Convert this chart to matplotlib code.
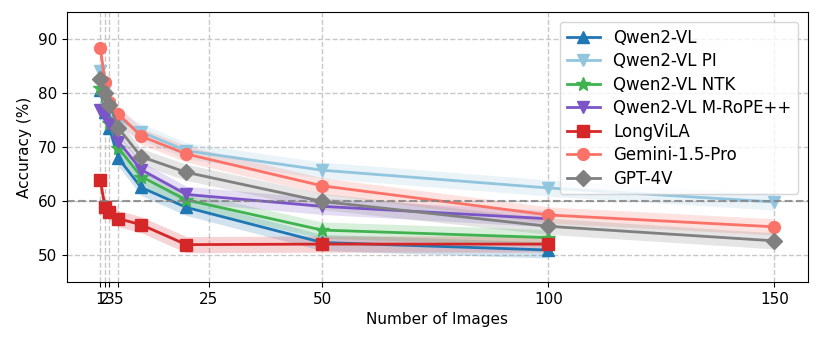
import matplotlib
matplotlib.use('Agg')
import matplotlib.pyplot as plt
import numpy as np

# number of images per sample
num_images = [1, 2, 3, 5, 10, 20, 50, 100, 150]
x_ticks = [1, 2, 3, 5, 25, 50, 100, 150]

qwen2_vl = [80.6, 76.4, 73.5, 67.9, 62.5, 58.8, 52.3, 50.9]
qwen2_vl_pi = [84.0, 80.5, 77.8, 75.2, 72.8, 69.3, 65.7, 62.4, 59.8]
qwen2_vl_ntk = [81.0, 77.2, 74.5, 69.8, 64.5, 60.2, 54.6, 53.2]
qwen2_vl_mrope = [76.8, 75.8, 74.2, 71.0, 65.8, 61.2, 59.0, 56.7]
longvila = [63.8, 58.9, 58.0, 56.7, 55.6, 51.9, 52.0, 52.0]
gemini = [88.4, 82.1, 78.4, 76.1, 72.0, 68.7, 62.8, 57.4, 55.2]
gpt4v = [82.6, 80.0, 77.8, 73.5, 68.2, 65.3, 59.9, 55.3, 52.6]

band = 1.5

series = [
    ('Qwen2-VL', qwen2_vl, '#1f77b4', '^'),
    ('Qwen2-VL PI', qwen2_vl_pi, '#92c5de', 'v'),
    ('Qwen2-VL NTK', qwen2_vl_ntk, '#3fb34f', '*'),
    ('Qwen2-VL M-RoPE++', qwen2_vl_mrope, '#7b55c7', 'v'),
    ('LongViLA', longvila, '#d62728', 's'),
    ('Gemini-1.5-Pro', gemini, '#fa7268', 'o'),
    ('GPT-4V', gpt4v, '#808080', 'D'),
]

plt.rcParams['font.size'] = 11

fig = plt.figure(figsize=(8.23, 3.45), dpi=100)
ax = fig.add_axes([0.081, 0.183, 0.901, 0.782])

for name, vals, color, marker in series:
    xs = np.array(num_images[:len(vals)])
    ys = np.array(vals)
    ms = 10 if marker == '*' else 8.5
    ax.fill_between(xs, ys - band, ys + band, color=color, alpha=0.2, linewidth=0)
    ax.plot(xs, ys, color=color, marker=marker, markersize=ms, linewidth=2, label=name)

ax.axhline(60, color='gray', linestyle='--', linewidth=1.5, alpha=0.8)

ax.set_xticks(x_ticks)
ax.set_yticks([50, 60, 70, 80, 90])
ax.set_ylim(45, 95)
ax.grid(True, linestyle='--', color='#c8c8c8', linewidth=1)
ax.set_axisbelow(True)

ax.set_xlabel('Number of Images')
ax.set_ylabel('Accuracy (%)')
ax.legend(loc='upper right', fontsize=12, labelspacing=0.33, borderaxespad=0.6)

plt.savefig('out.png', dpi=100)
